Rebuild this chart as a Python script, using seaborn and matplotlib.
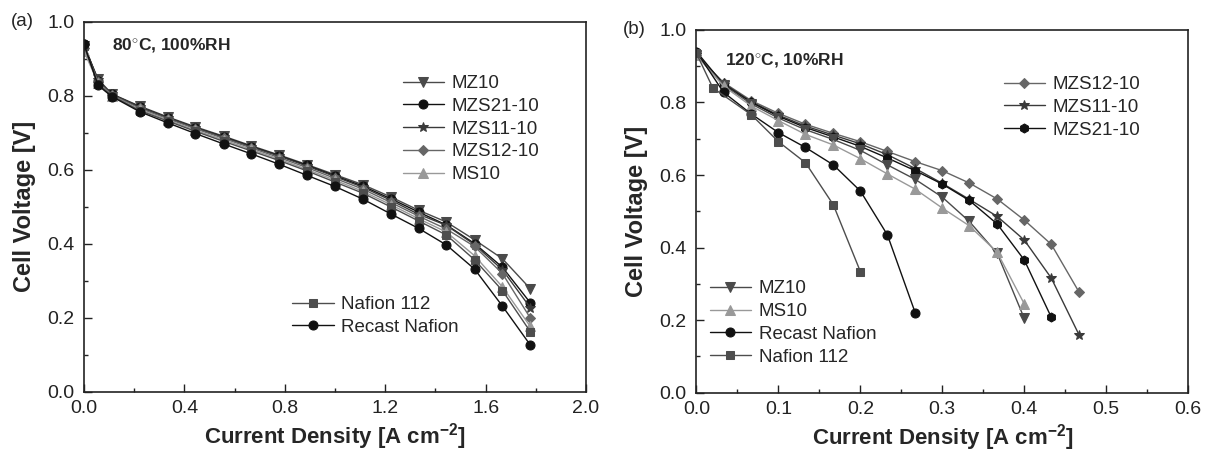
import matplotlib
matplotlib.use('Agg')
from matplotlib import pyplot as plt
from matplotlib.ticker import MultipleLocator
import seaborn as sns

# (a) 80C, 100%RH
x_a = [0.0, 0.056, 0.111, 0.222, 0.333, 0.444, 0.556, 0.667, 0.778, 0.889,
       1.0, 1.111, 1.222, 1.333, 1.444, 1.556, 1.667, 1.778]
a_mz10 = [0.935, 0.845, 0.805, 0.772, 0.743, 0.716, 0.691, 0.665, 0.640, 0.614,
          0.587, 0.560, 0.527, 0.491, 0.459, 0.411, 0.360, 0.279]
a_mzs21 = [0.940, 0.840, 0.804, 0.770, 0.741, 0.714, 0.689, 0.663, 0.638, 0.612,
           0.584, 0.556, 0.522, 0.486, 0.451, 0.401, 0.337, 0.241]
a_mzs11 = [0.935, 0.843, 0.804, 0.770, 0.741, 0.714, 0.688, 0.662, 0.637, 0.610,
           0.582, 0.553, 0.518, 0.480, 0.450, 0.398, 0.330, 0.228]
a_mzs12 = [0.930, 0.838, 0.802, 0.766, 0.738, 0.711, 0.685, 0.659, 0.633, 0.606,
           0.577, 0.548, 0.512, 0.475, 0.440, 0.393, 0.320, 0.200]
a_ms10 = [0.920, 0.835, 0.800, 0.763, 0.735, 0.707, 0.681, 0.655, 0.629, 0.601,
          0.572, 0.542, 0.506, 0.468, 0.432, 0.368, 0.284, 0.177]
a_nafion112 = [0.935, 0.832, 0.800, 0.760, 0.732, 0.704, 0.677, 0.651, 0.625, 0.597,
               0.567, 0.537, 0.500, 0.462, 0.424, 0.357, 0.274, 0.163]
a_recast = [0.940, 0.828, 0.798, 0.757, 0.727, 0.698, 0.670, 0.643, 0.615, 0.585,
            0.555, 0.521, 0.481, 0.442, 0.397, 0.332, 0.232, 0.127]

# (b) 120C, 10%RH
x_b = [0.0, 0.033, 0.067, 0.1, 0.133, 0.167, 0.2, 0.233, 0.267, 0.3,
       0.333, 0.367, 0.4, 0.433, 0.467]
b_mzs12 = [0.930, 0.855, 0.805, 0.770, 0.740, 0.715, 0.692, 0.665, 0.637, 0.612,
           0.578, 0.534, 0.476, 0.409, 0.277]
b_mzs11 = [0.930, 0.853, 0.802, 0.765, 0.735, 0.710, 0.686, 0.656, 0.618, 0.577,
           0.533, 0.486, 0.421, 0.316, 0.159]
b_mzs21 = [0.940, 0.850, 0.800, 0.762, 0.731, 0.705, 0.679, 0.647, 0.612, 0.575,
           0.530, 0.465, 0.366, 0.208]
b_mz10 = [0.930, 0.848, 0.796, 0.757, 0.725, 0.698, 0.668, 0.628, 0.588, 0.539,
          0.472, 0.384, 0.205]
b_ms10 = [0.930, 0.845, 0.790, 0.750, 0.712, 0.683, 0.645, 0.603, 0.561, 0.509,
          0.460, 0.387, 0.245]
b_recast = [0.940, 0.828, 0.768, 0.717, 0.676, 0.628, 0.556, 0.435, 0.220]
x_b_nafion = [0.0, 0.02, 0.067, 0.1, 0.133, 0.167, 0.2]
b_nafion112 = [0.935, 0.840, 0.766, 0.692, 0.634, 0.518, 0.334]

sns.set_style('ticks')
plt.rcParams['font.family'] = ['Liberation Sans', 'DejaVu Sans']
plt.rcParams['mathtext.fontset'] = 'custom'
plt.rcParams['mathtext.rm'] = 'Liberation Sans'
plt.rcParams['mathtext.bf'] = 'Liberation Sans:bold'
plt.rcParams['axes.unicode_minus'] = False

fig = plt.figure(figsize=(12.05, 4.53), dpi=100)
ax_a = fig.add_axes([0.0697, 0.1347, 0.4166, 0.8173])
ax_b = fig.add_axes([0.578, 0.133, 0.408, 0.801])


def draw(ax, x, y, label, marker, color, ms=6.5):
    sns.lineplot(x=x[:len(y)], y=y, ax=ax, marker=marker, color=color, label=label,
                 linewidth=1.0, markersize=ms, markeredgecolor=color, legend=False)
    return ax.get_lines()[-1]


# panel (a)
h_a1 = [
    draw(ax_a, x_a, a_mz10, 'MZ10', 'v', '#4a4a4a'),
    draw(ax_a, x_a, a_mzs21, 'MZS21-10', 'o', '#111111'),
    draw(ax_a, x_a, a_mzs11, 'MZS11-10', '*', '#3a3a3a', 7.5),
    draw(ax_a, x_a, a_mzs12, 'MZS12-10', 'D', '#666666', 5.5),
    draw(ax_a, x_a, a_ms10, 'MS10', '^', '#999999'),
]
h_a2 = [
    draw(ax_a, x_a, a_nafion112, 'Nafion 112', 's', '#4d4d4d', 5.5),
    draw(ax_a, x_a, a_recast, 'Recast Nafion', 'o', '#111111'),
]

# panel (b)
h_b1 = [
    draw(ax_b, x_b, b_mzs12, 'MZS12-10', 'D', '#666666', 5.5),
    draw(ax_b, x_b, b_mzs11, 'MZS11-10', '*', '#3a3a3a', 7.5),
    draw(ax_b, x_b, b_mzs21, 'MZS21-10', 'h', '#111111'),
]
h_b2 = [
    draw(ax_b, x_b, b_mz10, 'MZ10', 'v', '#4a4a4a'),
    draw(ax_b, x_b, b_ms10, 'MS10', '^', '#999999'),
    draw(ax_b, x_b, b_recast, 'Recast Nafion', 'o', '#111111'),
    draw(ax_b, x_b_nafion, b_nafion112, 'Nafion 112', 's', '#4d4d4d', 5.5),
]

leg_kw = dict(frameon=False, fontsize=13.5, handlelength=2.2, handletextpad=0.4,
              labelspacing=0.3, borderpad=0, borderaxespad=0, loc='upper left')

l1 = ax_a.legend(handles=h_a1, bbox_to_anchor=(0.635, 0.856), **leg_kw)
ax_a.add_artist(l1)
ax_a.legend(handles=h_a2, bbox_to_anchor=(0.415, 0.259), **leg_kw)

l2 = ax_b.legend(handles=h_b1, bbox_to_anchor=(0.625, 0.873), **leg_kw)
ax_b.add_artist(l2)
ax_b.legend(handles=h_b2, bbox_to_anchor=(0.027, 0.310), **leg_kw)

for ax, xmax, xmaj, xmin in [(ax_a, 2.0, 0.4, 0.2), (ax_b, 0.6, 0.1, 0.05)]:
    ax.set_xlim(0, xmax)
    ax.set_ylim(0, 1.0)
    ax.xaxis.set_major_locator(MultipleLocator(xmaj))
    ax.xaxis.set_minor_locator(MultipleLocator(xmin))
    ax.yaxis.set_major_locator(MultipleLocator(0.2))
    ax.yaxis.set_minor_locator(MultipleLocator(0.1))
    ax.tick_params(which='both', direction='in', top=False, right=False,
                   labelsize=14, colors='#222222', width=1.0)
    ax.tick_params(which='major', length=6)
    ax.tick_params(which='minor', length=3)
    ax.tick_params(axis='x', which='major', pad=6)
    ax.tick_params(axis='y', which='major', pad=7)
    ax.xaxis.set_major_formatter(plt.FormatStrFormatter('%.1f'))
    ax.yaxis.set_major_formatter(plt.FormatStrFormatter('%.1f'))
    for sp in ax.spines.values():
        sp.set_linewidth(1.2)
        sp.set_color('#222222')
    ax.set_xlabel(r'Current Density [A cm$^{\mathbf{-2}}$]', fontsize=16,
                  fontweight='bold', labelpad=3)
    ax.set_ylabel('Cell Voltage [V]', fontsize=17, fontweight='bold', labelpad=8)

ax_a.text(0.055, 0.935, r'80$^{\circ}$C, 100%RH', transform=ax_a.transAxes,
          fontsize=12.5, fontweight='bold', va='center')
ax_b.text(0.058, 0.915, r'120$^{\circ}$C, 10%RH', transform=ax_b.transAxes,
          fontsize=12.5, fontweight='bold', va='center')

fig.text(0.009, 0.953, '(a)', fontsize=13.5, va='center')
fig.text(0.517, 0.934, '(b)', fontsize=13.5, va='center')

fig.savefig('out.png', dpi=100)
